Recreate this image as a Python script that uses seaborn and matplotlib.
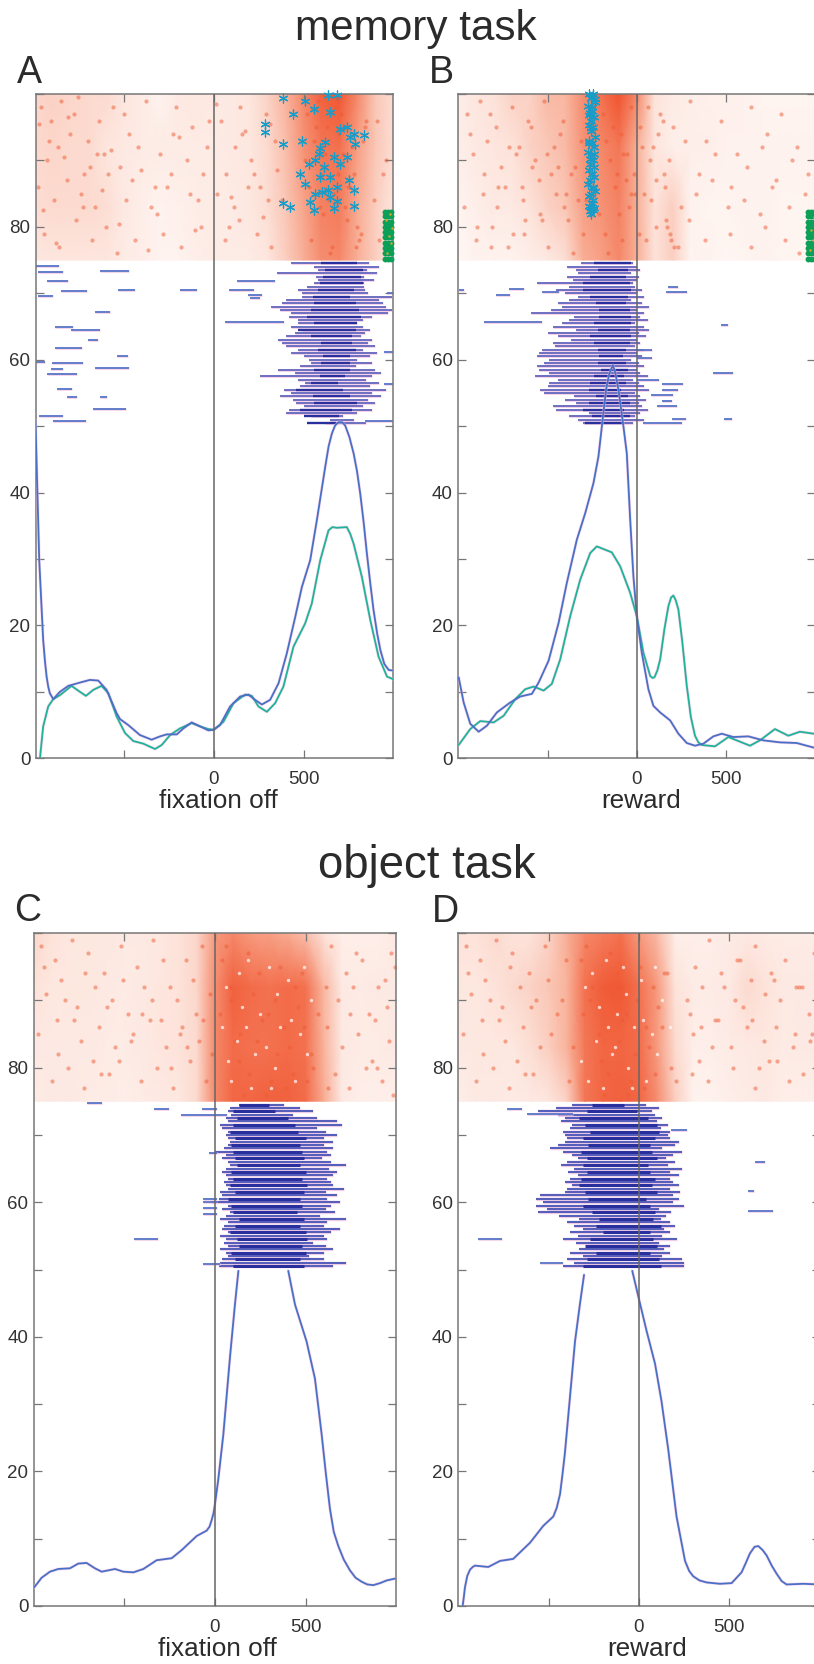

import numpy as np
import pandas as pd
import seaborn as sns
import matplotlib.pyplot as plt
from matplotlib.colors import LinearSegmentedColormap

sns.set_style('ticks')
plt.rcParams['font.family'] = ['Liberation Sans', 'DejaVu Sans']

# Data

raster_rows = [50.5, 51, 51.5, 52, 52.5, 53, 53.5, 54, 54.5, 55, 55.5, 56, 56.5, 57, 57.5, 58, 58.5,
               59, 59.5, 60, 60.5, 61, 61.5, 62, 62.5, 63, 63.5, 64, 64.5, 65, 65.5, 66, 66.5, 67,
               67.5, 68, 68.5, 69, 69.5, 70, 70.5, 71, 71.5, 72, 72.5, 73, 73.5, 74, 74.5]
core_rows = [50.5, 51.5, 52.5, 53.5, 54.5, 55.5, 56.5, 57.5, 58.5, 59.5, 60.5, 61.5, 62.5, 63.5, 64.5,
             65.5, 66.5, 67.5, 68.5, 69.5, 70.5, 71.5, 72.5, 73.5, 74.5]
density_t = [-1000, -900, -800, -700, -600, -500, -400, -300, -200, -100, 0, 100, 200, 300, 400, 500,
             600, 700, 800, 900, 1000]
density_y = [75, 83, 92, 100]

# panel A
a_blue_t = [-993, -983, -972, -950, -940, -931, -922, -913, -894, -857, -810, -745, -690, -643, -597, -541,
            -522, -476, -411, -346, -299, -262, -206, -169, -123, -76, -30, 0, 35, 91, 147, 193, 230, 268,
            314, 361, 407, 454, 491, 537, 574, 621, 640, 658, 676, 695, 715, 732, 755, 779, 798, 816, 835,
            853, 872, 890, 910, 928, 950, 974, 1000]
a_blue = [50.9, 40.9, 29.8, 17.8, 14.6, 12.3, 10.8, 9.8, 8.9, 10, 10.9, 11.4, 11.8, 11.7, 10.3, 6.8, 5.9,
          5.0, 3.5, 2.8, 3.3, 3.6, 3.6, 4.5, 5.4, 4.8, 4.2, 4.3, 5.0, 7.8, 9.3, 9.6, 8.8, 8.1, 8.8, 11.3,
          15.8, 21.3, 25.8, 29.8, 35.8, 43.9, 47.0, 48.9, 50.1, 50.6, 50.6, 50.1, 48.4, 45.9, 43.2, 39.8,
          35.5, 30.8, 26.3, 22.3, 18.8, 16.3, 14.2, 13.3, 13.2]
a_green_t = [-968, -950, -922, -894, -857, -792, -745, -712, -671, -625, -587, -541, -494, -448, -392, -327,
             -290, -243, -188, -123, -76, -30, 0, 54, 110, 175, 212, 249, 296, 342, 388, 444, 509, 546, 593,
             639, 660, 686, 741, 760, 779, 825, 872, 918, 965, 1000]
a_green = [0, 4.8, 7.8, 8.9, 9.5, 10.9, 10, 9.4, 10.3, 10.9, 9.8, 6.3, 3.8, 2.6, 2.2, 1.4, 2.0, 3.5, 4.5,
           5.3, 4.8, 4.4, 4.3, 5.5, 8.3, 9.6, 9.4, 7.8, 7, 8.3, 10.8, 16.8, 20.3, 23.3, 29.8, 34.3, 34.8,
           34.7, 34.8, 33.8, 32.3, 27.3, 20.8, 15.3, 12.3, 11.9]
a_start = [620, 650, 540, 400, 420, 500, 460, 440, 370, 430, 390, 480, 510, 470, 255, 450, 360, 480, 540,
           530, 500, 430, 470, 400, 380, 360, 400, 450, 490, 430, 470, 470, 420, 430, 370, 320, 380,
           400, 490, 490, 470, 520, 560, 580, 570, 350, 580, 560, 430]
a_end = [850, 780, 720, 800, 880, 830, 900, 860, 930, 880, 960, 870, 920, 850, 880, 930, 900, 790, 880,
         800, 870, 910, 830, 900, 860, 880, 820, 840, 870, 830, 800, 830, 880, 970, 990, 960, 940, 920,
         990, 860, 840, 835, 835, 890, 835, 909, 853, 918, 862]
a_core_start = [520, 500, 480, 560, 550, 460, 540, 590, 560, 600, 610, 580, 600, 540, 470, 560, 520, 540,
                560, 550, 580, 590, 610, 620, 600]
a_core_end = [680, 700, 770, 800, 760, 720, 690, 730, 760, 760, 760, 790, 770, 770, 790, 800, 820, 810,
              790, 760, 780, 830, 820, 830, 800]
a_gap_y = [74.1, 73.25, 73.35, 71.9, 70.35, 70.55, 70.55, 69.6, 67.15, 64.95, 64.4, 62.95, 61.8, 60.55,
           59.6, 59.45, 58.65, 58.75, 57.9, 55.6, 54.45, 54.45, 52.6, 51.6, 50.7, 71.9, 70.55, 69.8,
           69.35, 65.65, 70, 61.1, 56.4, 50.7]
a_gap_start = [-993, -981, -634, -931, -851, -532, -188, -978, -662, -885, -797, -699, -885, -537, -993,
               -900, -907, -662, -926, -875, -820, -634, -671, -974, -894, 128, 87, 193, 203, 63, 965,
               946, 946, 844]
a_gap_end = [-861, -838, -470, -814, -708, -439, -95, -894, -578, -786, -634, -643, -736, -476, -941, -727,
             -838, -470, -760, -792, -760, -593, -491, -842, -712, 342, 225, 268, 258, 394, 1000, 1000,
             1000, 1000]
a_density = [[.28, .3, .3, .3, .3, .24, .2, .15, .15, .2, .24, .24, .24, .3, .42, .58, .7, .72, .58, .42, .3],
             [.34, .36, .36, .36, .34, .26, .2, .15, .18, .22, .24, .24, .28, .34, .46, .62, .74, .76, .6, .42, .3],
             [.36, .38, .36, .36, .3, .26, .24, .24, .24, .24, .24, .26, .28, .36, .5, .68, .78, .8, .64, .46, .34],
             [.38, .4, .38, .36, .36, .3, .24, .15, .26, .28, .26, .26, .3, .4, .56, .72, .86, .9, .72, .46, .34]]
a_dot_t = [-960, -905, -850, -780, -700, -640, -560, -470, -380, -300, -210, -120, -60, 40, 120, 210, 290,
           -930, -870, -800, -720, -610, -520, -420, -330, -240, -150, -40, 70, 160, 260, 340, 910, 960,
           -980, -890, -820, -740, -660, -590, -490, -350, -260, -90, 20, 110, 190, 300, 890, 945,
           -945, -860, -770, -680, -600, -540, -440, -280, -180, -70, 60, 140, 240, 320, 920,
           -975, -915, -835, -755, -690, -625, -575, -500, -405, -315, -195, -105, 15, 95, 175, 275, 355,
           -950, -880, -810, -730, -650, -530, -455, -365, -225, -135, -25, 85, 145, 225, 315, 380,
           520, 560, 600, 640, 680, 720, 760, 800, 840, 540, 590, 620, 660, 700, 740, 780, 820,
           510, 570, 610, 650, 690, 730, 770, 810, 850, 530, 580, 630, 670, 710, 750, 790, 830]
a_dot_y = [98, 96, 99, 97, 93, 96, 98, 94, 99, 91, 98, 95, 88, 96, 92, 90, 97, 90, 92, 94, 88, 91, 89, 92,
           86, 88, 90, 92, 88, 94, 86, 93, 96, 90, 86, 84, 87, 85, 83, 88, 84, 83, 86, 84, 85, 83, 86,
           84, 84, 88, 79, 77, 81, 78, 80, 76, 78, 79, 77, 80, 78, 81, 79, 77, 78,
           95.5, 93, 90.5, 99.5, 89, 85.5, 91.5, 97, 88.5, 82, 93.5, 79.5, 98.5, 84.5, 94.5, 81.5, 88.5,
           82.5, 77.5, 96.5, 83, 91, 80.5, 87, 76.5, 94, 85, 96, 80, 98, 88, 95.5, 84,
           97, 93, 88, 84, 98, 91, 86, 80, 95, 78, 83, 91, 77, 94, 81, 88, 79,
           90, 95, 82, 76, 88, 83, 92, 78, 96, 86, 99, 95, 85, 97, 86, 77, 93]
a_star_t = [383, 286, 286, 388, 491, 444, 509, 556, 639, 686, 649, 742, 704, 835, 779, 788, 593, 621, 565,
            528, 584, 667, 704, 481, 509, 593, 649, 751, 782, 686, 639, 565, 602, 388, 426, 537, 556, 686,
            782, 667, 649, 742, 612, 760]
a_star_y = [99.4, 95.5, 94.3, 92.4, 93, 97, 99, 97.8, 99.8, 99.8, 97.3, 95, 94.8, 93.9, 94, 92.5, 91.8,
            92.8, 90, 89.5, 91, 90.5, 89.5, 88, 86.5, 87.5, 87.5, 87, 85.5, 86, 85.5, 85, 85.3, 83.6, 83,
            83.8, 82.5, 83.9, 83.1, 82.8, 84.5, 90.5, 89, 93.5]
a_end_t = [952, 970, 988, 952, 970, 988, 952, 970, 988, 952, 970, 988, 952, 970, 988, 952, 970, 988, 952,
           970, 988, 952, 970, 988, 952, 970, 988, 952, 970, 988]
a_end_y = [75.2, 75.2, 75.2, 76, 76, 76, 76.8, 76.8, 76.8, 77.6, 77.6, 77.6, 78.4, 78.4, 78.4, 79.2, 79.2,
           79.2, 80, 80, 80, 80.8, 80.8, 80.8, 81.6, 81.6, 81.6, 82.3, 82.3, 82.3]
a_spot_t = [965, 985, 975, 990, 960, 980]
a_spot_y = [76, 77.5, 78.6, 79.8, 81, 81.9]

# panel B
b_blue_t = [-998, -970, -933, -886, -840, -784, -709, -653, -588, -550, -494, -438, -392, -336, -289, -243,
            -215, -196, -172, -155, -134, -120, -103, -88, -75, -56, -37, -19, 0, 28, 65, 93, 131, 187, 233,
            280, 326, 373, 429, 476, 541, 625, 709, 802, 896, 993]
b_blue = [12.2, 8.4, 5.2, 4, 4.9, 6.9, 8.4, 9.3, 9.7, 11.4, 14.7, 20.4, 26.4, 32.9, 36.9, 41.4, 45.4, 49.9,
          55.5, 57.8, 59.2, 58, 55.5, 52.6, 50, 45.9, 35.9, 27.4, 21.4, 15.9, 10.4, 7.9, 6.9, 5.7, 3.7, 2.3,
          1.9, 2.2, 3.3, 3.7, 3.2, 3.3, 2.7, 2.4, 2.3, 1.6]
b_green_t = [-998, -933, -877, -802, -746, -681, -625, -578, -522, -476, -429, -373, -317, -261, -224, -140,
             -93, -37, 0, 37, 75, 88, 99, 115, 131, 155, 177, 192, 205, 218, 233, 255, 280, 303, 326, 345,
             364, 438, 513, 634, 690, 774, 849, 914, 993]
b_green = [2, 4.4, 5.6, 5.4, 6.4, 8.9, 10.4, 10.8, 10.2, 11.2, 14.9, 21.4, 26.9, 30.9, 31.9, 31, 28.9, 24.9,
           21.4, 15.9, 12.4, 12.1, 12.2, 13.2, 14.9, 19.5, 22.9, 24.2, 24.5, 23.8, 22.4, 17.5, 10.9, 6.2, 3.4,
           2.4, 2, 1.8, 3.2, 1.9, 2.7, 4.4, 3.4, 4, 3.7]
b_start = [-300, -330, -380, -270, -450, -470, -340, -400, -350, -520, -540, -500, -490, -440, -570, -490,
           -550, -560, -520, -490, -560, -550, -530, -460, -470, -370, -440, -500, -340, -470, -420, -380,
           -350, -590, -480, -420, -440, -380, -330, -400, -450, -380, -560, -360, -390, -330, -340, -390,
           -310]
b_end = [-20, 40, -10, 20, 60, 30, 10, 50, 20, -10, 70, 40, 10, -20, 60, 20, 0, 40, 10, -30, 30, 0, 40, -10,
         20, 0, 50, 10, 70, 40, -10, 60, 20, 40, 0, 70, 30, -30, 40, 0, 30, -10, -20, 0, 10, -30, 20, 0, -20]
b_core_start = [-290, -250, -300, -270, -230, -270, -260, -240, -200, -220, -210, -220, -240, -260, -220,
                -240, -210, -210, -230, -260, -300, -300, -260, -220, -240]
b_core_end = [-80, -40, -70, -40, -50, -90, -60, -70, -50, -60, -80, -60, -40, -30, -40, -30, -30, -40, -60,
              -50, -30, -40, -60, -50, -30]
b_gap_y = [70.5, 70.6, 69.8, 70.15, 65.65, 70.9, 70.15, 65.25, 58, 56.4, 55.5, 54.65, 53.75, 53.1, 51.15,
           51.15, 50.5, 61.5, 60.25, 56.9]
b_gap_start = [-998, -718, -787, -532, -858, 177, 162, 472, 429, 140, 140, 80, 140, 112, 196, 489, 37, 0, 0, 0]
b_gap_end = [-970, -634, -713, -438, -532, 233, 280, 509, 537, 261, 233, 205, 196, 228, 274, 535, 252, 84, 84,
             127]
b_density = [[.1, .16, .16, .16, .2, .26, .34, .58, .64, .72, .58, .32, .42, .14, .16, .1, .14, .16, .14, .14, .14],
             [.14, .2, .26, .26, .32, .4, .46, .64, .68, .74, .58, .32, .42, .16, .14, .14, .16, .16, .14, .14, .14],
             [.2, .26, .3, .32, .4, .46, .52, .68, .72, .78, .58, .3, .2, .2, .2, .16, .16, .16, .16, .16, .16],
             [.2, .3, .32, .4, .4, .52, .54, .7, .8, .92, .72, .32, .24, .2, .18, .18, .16, .14, .14, .14, .14]]
b_dot_t = [-950, -880, -790, -700, -610, -520, -430, 60, 130, 200, 300, 390, 470, 560, 640, 730, 810, 900,
           -920, -840, -760, -660, -570, -480, 30, 110, 180, 270, 350, 440, 530, 620, 700, 780, 870, 960,
           -970, -860, -740, -640, -550, -450, 80, 160, 250, 330, 420, 510, 600, 690, 760, 850, 940,
           -900, -810, -720, -630, -530, 50, 170, 210, 290, 380, 520, 640, 720, 830, 910,
           -935, -825, -715, -595, -505, -415, -370, -310, -190, -150, -90, -60, -30, 20, 90, 150,
           -855, -775, -675, -585, -465, -395, -345, -285, -170, -120, -75, -45, -15, 40, 120, 165,
           -895, -785, -645, -545, -440, -385, -330, -265, -180, -135, -100, -55, -10, 75, 145, 190,
           -815, -695, -625, -495, -410, -355, -300, -210, -160, -110, -85, -35, 10, 105, 185, 230]
b_dot_y = [97, 99, 95, 98, 96, 99, 94, 98, 97, 95, 99, 93, 96, 91, 98, 94, 97, 92, 91, 93, 89, 92, 90, 88, 92,
           87, 90, 93, 88, 91, 86, 89, 92, 87, 90, 88, 83, 85, 86, 84, 87, 85, 84, 86, 83, 85, 87, 83, 84, 82,
           86, 83, 85, 78, 80, 77, 79, 81, 78, 80, 77, 81, 78, 79, 77, 80, 78, 76,
           94, 97, 92, 95, 91, 96, 88, 93, 97, 90, 94, 87, 98, 95, 92, 88,
           88, 86, 91, 89, 92, 85, 89, 84, 93, 86, 91, 83, 88, 85, 94, 81,
           80, 83, 86, 82, 89, 81, 84, 87, 79, 95, 82, 91, 85, 90, 96, 78,
           77, 79, 81, 77, 83, 76, 79, 82, 76, 88, 78, 85, 79, 80, 79, 77]
b_star_t = [-268, -245, -255, -235, -272, -250, -262, -240, -255, -270, -243, -258, -236, -265, -250, -240,
            -272, -256, -245, -262, -238, -268, -252, -240, -260, -272, -247, -236, -255, -265, -243, -252,
            -270, -258, -240, -262, -248, -254, -236, -268, -250, -262, -242, -255, -270, -245]
b_star_y = [100, 100, 99.4, 98.8, 98.2, 98, 97.2, 96.6, 96, 95.4, 95, 94.4, 93.6, 93, 92.6, 92, 91.2, 90.8,
            90, 89.5, 89, 88.6, 88, 87.5, 87, 86.4, 86, 85.4, 85, 84.6, 84, 83.6, 83.2, 83, 82.8, 82.4, 82.6,
            82, 99.2, 96.8, 97.5, 90.2, 91, 94.9, 92.6, 85.8]
b_end_t = [958, 976, 994, 958, 976, 994, 958, 976, 994, 958, 976, 994, 958, 976, 994, 958, 976, 994, 958,
           976, 994, 958, 976, 994, 958, 976, 994, 958, 976, 994]
b_end_y = a_end_y
b_spot_t = [968, 985, 975, 990]
b_spot_y = [76.5, 78, 79.5, 81.5]

# panel C, the curve is hidden behind the raster above 50
c_rise_t = [-996, -956, -910, -864, -800, -754, -708, -662, -625, -551, -506, -450, -395, -322, -239, -184,
            -101, -46, -30, -18, -8, 0, 18, 46, 83, 110, 129]
c_rise = [2.8, 4.2, 5.1, 5.5, 5.6, 6.3, 6.4, 5.6, 5.1, 5.5, 5.1, 5.0, 5.5, 6.8, 7.1, 8.3, 10.4, 11.2, 11.8,
          12.8, 13.8, 15.2, 18.8, 25.5, 37.1, 44.8, 49.8]
c_fall_t = [404, 441, 505, 551, 588, 612, 634, 655, 680, 710, 744, 775, 809, 840, 873, 910, 947, 998]
c_fall = [49.8, 44.8, 39.3, 33.8, 25.5, 19.5, 14.4, 11, 8.9, 6.9, 5.3, 4.2, 3.6, 3.2, 3.1, 3.4, 3.8, 4.1]
c_start = [20, 30, 40, 70, 60, 30, 70, 50, 60, 30, 70, 40, 50, 70, 30, 60, 80, 40, 70, -20, 20, 40, 30, 70,
           60, 50, 70, 60, 40, 60, 80, 70, 40, 60, 0, 50, 70, 80, 70, 60, 70, 40, 30, 70, 60, 90, 70, 80, 130]
c_end = [650, 725, 600, 520, 600, 650, 610, 540, 620, 600, 640, 690, 600, 620, 720, 580, 660, 610, 640, 690,
         620, 670, 610, 710, 650, 640, 620, 650, 670, 630, 720, 640, 590, 640, 620, 650, 600, 650, 600, 670,
         610, 560, 700, 670, 560, 430, 540, 470, 380]
c_core_start = [100, 110, 90, 130, 120, 80, 110, 130, 100, 90, 70, 110, 80, 100, 90, 120, 110, 100, 90, 110,
                80, 100, 120, 100, 130]
c_core_end = [490, 470, 500, 480, 510, 500, 470, 490, 450, 480, 470, 490, 510, 480, 500, 470, 490, 480, 470,
              500, 460, 440, 400, 330, 300]
c_gap_y = [74.8, 73.8, 73.9, 73, 60.5, 60, 59.2, 58.3, 67.3, 54.5, 50.8]
c_gap_start = [-704, -335, -73, -187, -64, -64, -64, -64, -31, -445, -68]
c_gap_end = [-625, -252, 9, 64, 9, 9, 9, 9, 9, -312, 28]
c_density = [[.24, .26, .26, .24, .24, .2, .24, .26, .28, .36, .72, .84, .84, .86, .86, .82, .6, .26, .2, .2, .2],
             [.26, .26, .26, .26, .24, .24, .26, .3, .32, .36, .72, .82, .8, .8, .82, .8, .56, .26, .24, .24, .26],
             [.32, .28, .28, .28, .26, .24, .26, .3, .32, .38, .7, .86, .82, .8, .82, .8, .54, .26, .24, .26, .26],
             [.38, .32, .28, .28, .28, .26, .26, .28, .32, .38, .66, .72, .66, .64, .6, .5, .32, .2, .2, .2, .26]]
c_dot_t = [-960, -880, -790, -700, -610, -520, -430, -340, -250, -160, -70, 640, 720, 810, 900, 970,
           -930, -850, -760, -660, -570, -480, -390, -300, -210, -120, -30, 680, 760, 850, 940,
           -975, -870, -740, -640, -550, -450, -360, -270, -180, -90, 620, 700, 790, 880, 960,
           -900, -810, -720, -630, -530, -410, -320, -230, -140, -50, 660, 740, 830, 920, 980,
           -945, -825, -715, -595, -505, -405, -285, -195, -105, -15, 610, 745, 865, 990,
           -865, -775, -675, -585, -465, -345, -245, -155, -65, 625, 780, 895, 950,
           40, 90, 140, 190, 240, 290, 340, 390, 440, 490, 540, 60, 110, 160, 210, 260, 310, 360, 410, 460,
           510, 30, 80, 130, 180, 230, 280, 330, 380, 430, 480, 530, 570]
c_dot_y = [98, 96, 99, 97, 94, 98, 95, 99, 92, 96, 98, 98, 94, 96, 92, 97, 91, 93, 89, 92, 90, 88, 92, 87, 90,
           93, 91, 90, 92, 88, 93, 85, 87, 84, 86, 83, 85, 87, 83, 86, 84, 86, 83, 85, 87, 84, 78, 80, 77, 79,
           81, 78, 80, 77, 81, 78, 79, 77, 80, 78, 76,
           95, 90, 94, 89, 93, 88, 96, 85, 88, 82, 92, 88, 81, 95,
           82, 87, 81, 79, 84, 90, 80, 83, 87, 77, 97, 80, 89,
           96, 90, 85, 79, 94, 88, 82, 77, 92, 86, 80, 98, 84, 76, 91, 87, 78, 95, 83, 89,
           78, 88, 92, 81, 97, 84, 76, 90, 86, 79, 94, 82, 88]
c_fleck_t = [60, 120, 180, 250, 330, 400, 470, 530, 90, 150, 220, 300, 360, 440, 510, 40, 130, 200, 280, 340,
             420, 490, 70, 170, 310]
c_fleck_y = [92, 84, 96, 88, 80, 93, 85, 90, 78, 89, 82, 95, 86, 78, 82, 86, 94, 77, 83, 91, 87, 95, 81, 86, 77]

# panel D
d_rise_t = [-976, -970, -963, -950, -935, -920, -908, -834, -769, -696, -603, -530, -474, -455, -437, -424,
            -410, -382, -354, -327, -304]
d_rise = [0, 1.2, 2.8, 4.5, 5.4, 5.8, 6, 5.8, 6.7, 7, 9.4, 11.9, 13.3, 14.6, 16.6, 19.4, 22.7, 31, 39.3, 44.8,
          49.2]
d_fall_t = [-37, 0, 42, 89, 125, 162, 208, 255, 278, 301, 335, 375, 448, 513, 568, 590, 614, 640, 661, 685,
            707, 735, 762, 790, 817, 910, 1000]
d_fall = [49.8, 45.6, 40.9, 36, 30.4, 23.3, 13.3, 6.7, 5.2, 4.4, 3.8, 3.5, 3.3, 3.4, 5, 6.3, 7.8, 8.8, 8.9, 8.3,
          7.5, 6.0, 4.8, 3.7, 3.2, 3.3, 3.2]
d_start = [-420, -360, -400, -310, -380, -330, -290, -350, -420, -340, -380, -310, -360, -400, -330, -440,
           -560, -510, -570, -530, -570, -550, -410, -400, -370, -410, -380, -340, -390, -360, -430, -400,
           -340, -370, -420, -490, -450, -410, -400, -410, -420, -380, -370, -430, -410, -450, -560, -460, -370]
d_end = [250, 250, 240, 130, 170, 140, 170, 110, 210, 130, 170, 140, 200, 170, 120, 150, 180, 110, 250, 190,
         220, 190, 230, 170, 220, 190, 170, 220, 170, 240, 160, 200, 150, 190, 240, 130, 200, 220, 170, 160,
         170, 120, 160, 100, 130, 90, 70, 110, 40]
d_core_start = [-310, -290, -240, -300, -270, -200, -240, -220, -260, -310, -280, -300, -330, -320, -290, -310,
                -290, -320, -280, -310, -270, -300, -330, -290, -260]
d_core_end = [120, 110, 60, 100, 80, 60, 120, 80, 90, 60, 40, 100, 70, 90, 60, 50, 100, 70, 60, 90, 110, 100,
              50, -10, -80]
d_gap_y = [73.9, 73.1, 70.8, 65.9, 61.7, 58.7, 54.5, 51]
d_gap_start = [-729, -622, 175, 642, 605, 605, -889, -548]
d_gap_end = [-649, -363, 268, 697, 637, 744, -756, -419]
d_density = [[.2, .26, .26, .24, .26, .3, .4, .78, .84, .86, .84, .7, .42, .16, .16, .2, .24, .26, .2, .2, .2],
             [.26, .28, .28, .28, .34, .42, .56, .78, .84, .84, .82, .66, .36, .2, .2, .24, .26, .28, .24, .26, .26],
             [.28, .28, .32, .36, .4, .46, .56, .8, .88, .9, .8, .66, .32, .24, .24, .26, .36, .32, .26, .26, .26],
             [.32, .32, .36, .32, .32, .4, .58, .72, .76, .8, .66, .52, .2, .2, .2, .24, .26, .24, .24, .24, .24]]
d_dot_t = [-960, -880, -790, -700, -610, -520, 310, 390, 470, 560, 640, 730, 810, 900, 970,
           -930, -850, -760, -660, -570, 280, 350, 440, 530, 620, 700, 780, 870, 940,
           -975, -870, -740, -640, -550, 300, 420, 510, 600, 690, 760, 850, 960,
           -900, -810, -720, -630, 330, 380, 520, 640, 720, 830, 910,
           -945, -825, -715, -595, -505, -455, -405, -365, 265, 345, 455, 575, 665, 745, 865, 985,
           -865, -775, -675, -585, -485, -425, -385, 295, 405, 545, 625, 765, 885, 945,
           -320, -270, -220, -170, -120, -70, -20, 30, 80, 130, 180, -295, -245, -195, -145, -95, -45, 5,
           55, 105, 155, 205, -310, -260, -210, -160, -110, -60, -10, 40, 90, 140]
d_dot_y = [98, 96, 99, 97, 94, 98, 95, 99, 92, 96, 98, 94, 96, 92, 97, 91, 93, 89, 92, 90, 88, 92, 87, 90, 93,
           91, 90, 92, 88, 85, 87, 84, 86, 83, 85, 87, 83, 86, 84, 86, 83, 85, 78, 80, 77, 79, 81, 78, 80, 77,
           81, 78, 79,
           94, 90, 95, 89, 93, 88, 96, 83, 90, 86, 94, 89, 80, 93, 85, 91,
           82, 87, 81, 79, 85, 90, 78, 79, 83, 96, 87, 81, 92, 84,
           96, 90, 85, 79, 94, 88, 82, 77, 92, 86, 80, 98, 84, 76, 91, 87, 78, 95, 83, 89, 94, 78,
           88, 92, 81, 97, 84, 76, 90, 86, 79, 94]
d_fleck_t = [-300, -240, -180, -120, -60, 10, 70, 130, -280, -220, -150, -90, -30, 40, 100, 170, -260, -200,
             -130, -70, 20, 90, -320, -170, -40]
d_fleck_y = [92, 84, 96, 88, 80, 93, 85, 90, 78, 89, 82, 95, 86, 78, 82, 86, 94, 77, 83, 91, 87, 95, 81, 86, 77]

tick_labels_y = ['0', '', '20', '', '40', '', '60', '', '80', '', '']
tick_values_y = [0, 10, 20, 30, 40, 50, 60, 70, 80, 90, 100]

W, H = 814, 1664
BLUE = '#4a6fc6'
BAR = '#565fba'
GREEN = '#1fb39a'
HALO = '#f3bfe0'
reds = LinearSegmentedColormap.from_list('raster', [(0, '#ffffff'), (.3, '#fde6de'), (.6, '#f8ab92'),
                                                    (.8, '#f3714f'), (1, '#ee3f18')])


def make_axes(left, right, top, bottom):
    return fig.add_axes([left / W, 1 - bottom / H, (right - left) / W, (bottom - top) / H])


def draw_curve(ax, t, rate, color):
    frame = pd.DataFrame({'t': t, 'rate': rate})
    sns.lineplot(data=frame, x='t', y='rate', color=HALO, linewidth=2.2, alpha=0.55, sort=False,
                 estimator=None, ax=ax, zorder=4, solid_joinstyle='round')
    sns.lineplot(data=frame, x='t', y='rate', color=color, linewidth=1.3, sort=False,
                 estimator=None, ax=ax, zorder=5, solid_joinstyle='round')


def draw_raster(ax, density, dot_t, dot_y, start, end, core_start, core_end, gap_y, gap_start, gap_end, bar=1.2, core=1.7):
    ax.pcolormesh(density_t, density_y, density, cmap=reds, vmin=0, vmax=1, shading='gouraud', zorder=0)
    sns.scatterplot(x=dot_t, y=dot_y, color='#ef5a34', s=9, alpha=0.5, linewidth=0, ax=ax, zorder=1)
    ax.hlines(raster_rows, start, end, color=HALO, linewidth=bar + 0.9, alpha=0.7, zorder=2)
    ax.hlines(raster_rows, start, end, color=BAR, linewidth=bar, zorder=2)
    ax.hlines(core_rows, core_start, core_end, color='#2a2f9e', linewidth=core, zorder=3)
    ax.hlines(gap_y, gap_start, gap_end, color=HALO, linewidth=2.0, alpha=0.7, zorder=2)
    ax.hlines(gap_y, gap_start, gap_end, color=BLUE, linewidth=1.2, zorder=2)


def finish_axes(ax, xlim):
    ax.set_xlim(xlim)
    ax.set_ylim(0, 100)
    ax.axvline(0, color='#666666', linewidth=1.1, zorder=6)
    ax.set_xticks([-500, 0, 500])
    ax.set_xticklabels(['', '0', '500'])
    ax.set_yticks(tick_values_y)
    ax.set_yticklabels(tick_labels_y)
    ax.tick_params(direction='in', length=5.5, width=0.9, color='#777777', labelsize=13.5, top=True, right=True,
                   labelcolor='#333333', pad=4)
    ax.tick_params(axis='x', pad=9)
    ax.set_xlabel('')
    ax.set_ylabel('')
    for s in ax.spines.values():
        s.set_visible(True)
        s.set_color('#777777')
        s.set_linewidth(1.1)


fig = plt.figure(figsize=(W / 100, H / 100), dpi=100)

ax_a = make_axes(36, 393.3, 94, 758.3)
ax_b = make_axes(458.3, 815.3, 94, 758.3)
ax_c = make_axes(34, 396, 933, 1606)
ax_d = make_axes(458.3, 819.6, 933, 1606)

draw_raster(ax_a, a_density, a_dot_t, a_dot_y, a_start, a_end, a_core_start, a_core_end, a_gap_y, a_gap_start, a_gap_end)
draw_raster(ax_b, b_density, b_dot_t, b_dot_y, b_start, b_end, b_core_start, b_core_end, b_gap_y, b_gap_start, b_gap_end)
draw_raster(ax_c, c_density, c_dot_t, c_dot_y, c_start, c_end, c_core_start, c_core_end, c_gap_y, c_gap_start, c_gap_end, 1.5, 2.2)
draw_raster(ax_d, d_density, d_dot_t, d_dot_y, d_start, d_end, d_core_start, d_core_end, d_gap_y, d_gap_start, d_gap_end, 1.5, 2.2)

sns.scatterplot(x=c_fleck_t, y=c_fleck_y, color='white', s=6, alpha=0.7, linewidth=0, ax=ax_c, zorder=1)
sns.scatterplot(x=d_fleck_t, y=d_fleck_y, color='white', s=6, alpha=0.7, linewidth=0, ax=ax_d, zorder=1)

draw_curve(ax_a, a_green_t, a_green, GREEN)
draw_curve(ax_a, a_blue_t, a_blue, BLUE)
draw_curve(ax_b, b_green_t, b_green, GREEN)
draw_curve(ax_b, b_blue_t, b_blue, BLUE)
draw_curve(ax_c, c_rise_t, c_rise, BLUE)
draw_curve(ax_c, c_fall_t, c_fall, BLUE)
draw_curve(ax_d, d_rise_t, d_rise, BLUE)
draw_curve(ax_d, d_fall_t, d_fall, BLUE)

for ax, t, y in [(ax_a, a_star_t, a_star_y), (ax_b, b_star_t, b_star_y)]:
    sns.scatterplot(x=t, y=y, marker=(6, 2, 0), color='#1a9cc8', s=42, linewidth=0.9, ax=ax, zorder=7, clip_on=False)
for ax, t, y in [(ax_a, a_end_t, a_end_y), (ax_b, b_end_t, b_end_y)]:
    sns.scatterplot(x=t, y=y, color='#0c9f58', s=18, linewidth=0, ax=ax, zorder=7, clip_on=False)
for ax, t, y in [(ax_a, a_spot_t, a_spot_y), (ax_b, b_spot_t, b_spot_y)]:
    sns.scatterplot(x=t, y=y, color='#e0a52a', s=3, linewidth=0, ax=ax, zorder=8)

finish_axes(ax_a, (-990, 1000))
finish_axes(ax_b, (-1000, 1000))
finish_axes(ax_c, (-998, 998))
finish_axes(ax_d, (-1000, 1000))

for txt, x, y, size in [('memory task', 416, 40, 30.4), ('object task', 427, 878, 32.8),
                        ('A', 29, 83, 27), ('B', 441, 83, 27), ('C', 28, 921, 27), ('D', 445, 922, 27),
                        ('fixation off', 218, 808, 18.8), ('reward', 641, 808, 18.8),
                        ('fixation off', 217.5, 1656, 18.8), ('reward', 647, 1656, 18.8)]:
    fig.text(x / W, 1 - y / H, txt, fontsize=size, ha='center', va='baseline', color='#2b2b2b')

fig.savefig('out.png', dpi=100)
